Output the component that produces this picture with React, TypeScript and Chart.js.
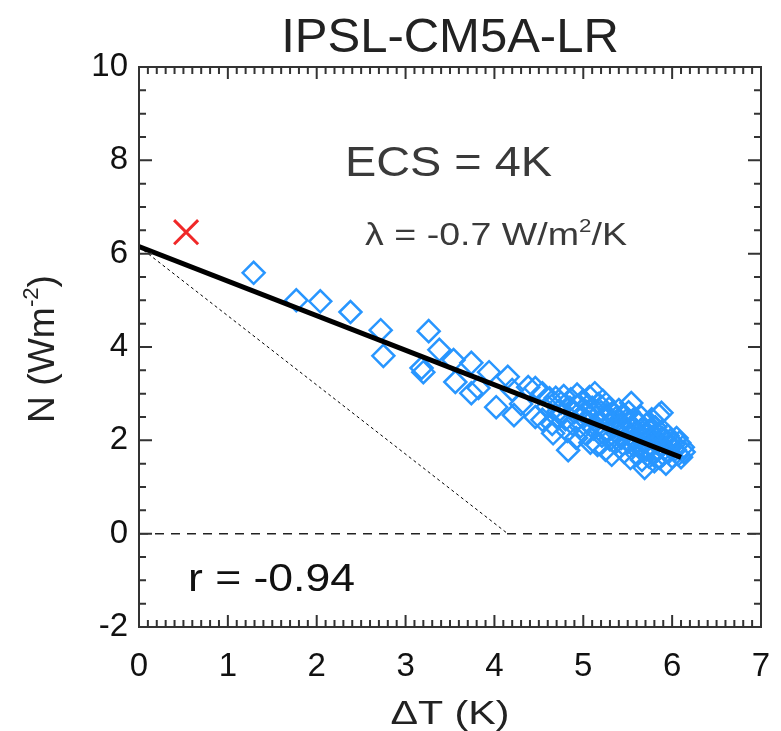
import React, { useEffect, useRef } from 'react';
import { Chart, registerables } from 'chart.js';

Chart.register(...registerables);

const modelName = 'IPSL-CM5A-LR';
const xTickValues = [0, 1, 2, 3, 4, 5, 6, 7];
const yTickValues = [-2, 0, 2, 4, 6, 8, 10];

const deltaT = [1.29,1.77,2.04,2.38,2.72,2.75,3.26,3.18,3.20,3.38,3.54,3.56,3.74,3.74,3.82,3.94,4.02,4.15,4.20,4.22,4.30,4.38,4.46,4.46,4.54,4.54,4.60,4.62,4.65,4.66,4.69,4.70,4.72,4.75,
4.78,4.80,4.82,4.83,4.85,4.86,4.88,4.90,4.92,4.93,4.95,4.97,4.98,5.00,5.02,5.03,5.05,5.07,5.08,5.10,5.12,5.13,5.14,5.16,5.17,5.18,5.20,5.21,5.22,5.24,5.25,5.26,5.28,5.29,5.30,5.31,5.32,5.33,5.35,5.36,5.37,5.38,5.40,5.41,5.42,5.43,5.45,5.46,5.47,5.48,5.50,5.51,5.52,5.53,5.54,5.55,5.56,5.57,5.58,5.60,5.61,5.62,5.63,5.64,5.65,5.66,5.67,5.68,5.69,5.70,5.71,5.72,5.73,5.74,5.75,5.76,5.77,5.78,5.79,5.80,5.81,5.82,5.83,5.84,5.85,5.86,5.87,5.88,5.89,5.90,5.91,5.92,5.93,5.94,5.95,5.96,5.97,5.98,6.00,6.02,6.03,6.05,6.07,6.08,6.10,6.12,6.13];

const netFlux = [5.59,5.00,4.98,4.75,4.36,3.81,4.34,3.55,3.46,3.94,3.72,3.25,3.66,3.01,3.12,3.46,2.71,3.36,3.08,2.54,2.78,3.14,3.12,2.50,3.01,2.44,2.72,2.90,2.35,2.15,2.91,2.50,2.62,2.80,
2.95,2.45,2.20,1.79,2.70,2.88,2.35,2.60,2.05,2.98,2.75,2.30,2.52,2.85,2.15,2.62,2.40,2.93,1.95,2.70,2.25,3.01,2.50,1.90,2.78,2.35,2.60,2.10,2.85,2.45,1.80,2.55,2.20,2.68,2.02,2.40,1.69,2.58,2.28,1.95,2.48,2.15,2.65,1.85,2.35,2.05,2.55,1.75,2.25,2.42,1.98,2.60,2.12,1.62,2.80,2.30,1.90,2.45,2.05,2.20,1.70,2.38,1.85,2.10,2.50,1.58,2.25,1.95,1.41,2.15,1.80,2.35,2.02,1.65,2.20,1.88,2.45,1.72,2.08,1.55,2.28,1.95,1.78,2.12,2.54,1.62,1.90,2.59,2.05,1.70,2.18,1.83,1.50,1.98,2.10,1.75,1.88,2.00,1.65,1.92,1.80,2.05,1.70,1.95,1.64,1.85,1.75];

const firstYearT = [0.53];
const firstYearN = [6.46];

const fitIntercept = 6.15;
const fitSlope = -0.74;
const fitEndT = 6.1;
const ecsZeroT = 4.15;

const ecsLabel = 'ECS = 4K';
const lambdaLabel = ['λ = -0.7 W/m', '2', '/K'];
const rLabel = 'r = -0.94';
const yTitleParts = ['N (Wm', '-2', ')'];
const xTitle = 'ΔT (K)';

const FONT = '"Liberation Sans", Arial, Helvetica, sans-serif';

// Draw text (optionally with one superscript part) horizontally fitted to a given width
function drawFitted(
  ctx: CanvasRenderingContext2D,
  parts: string[],
  x: number,
  y: number,
  size: number,
  width: number,
  align: 'left' | 'center'
) {
  const supSize = Math.round(size * 0.6);
  const widths: number[] = parts.map((p, i) => {
    ctx.font = `${i === 1 ? supSize : size}px ${FONT}`;
    return ctx.measureText(p).width;
  });
  const total = widths.reduce((a, b) => a + b, 0);
  const sx = width / total;
  ctx.save();
  const startX = align === 'center' ? x - width / 2 : x;
  ctx.translate(startX, y);
  ctx.scale(sx, 1);
  ctx.textAlign = 'left';
  let cx = 0;
  parts.forEach((p, i) => {
    ctx.font = `${i === 1 ? supSize : size}px ${FONT}`;
    ctx.fillText(p, cx, i === 1 ? -size * 0.42 : 0);
    cx += widths[i];
  });
  ctx.restore();
}

const framePlugin = {
  id: 'idlFrame',
  afterDraw(chart: any) {
    const { ctx, chartArea } = chart;
    const xs = chart.scales.x;
    const ys = chart.scales.y;
    const { left, right, top, bottom } = chartArea;
    ctx.save();
    ctx.strokeStyle = '#333';
    ctx.lineWidth = 2;
    ctx.strokeRect(left, top, right - left, bottom - top);
    ctx.beginPath();
    for (let i = 0; i <= 70; i++) {
      const v = i / 10;
      const px = xs.getPixelForValue(v);
      const len = i % 10 === 0 ? 12 : 7;
      ctx.moveTo(px, bottom);
      ctx.lineTo(px, bottom - len);
      ctx.moveTo(px, top);
      ctx.lineTo(px, top + len);
    }
    for (let i = -4; i <= 20; i++) {
      const v = i / 2;
      const py = ys.getPixelForValue(v);
      const len = i % 4 === 0 ? 13 : 7;
      ctx.moveTo(left, py);
      ctx.lineTo(left + len, py);
      ctx.moveTo(right, py);
      ctx.lineTo(right - len, py);
    }
    ctx.stroke();

    ctx.textBaseline = 'alphabetic';

    // Title
    ctx.fillStyle = '#222';
    ctx.textAlign = 'center';
    ctx.font = `49px ${FONT}`;
    ctx.fillText(modelName, (left + right) / 2, 52);

    // ECS label
    ctx.fillStyle = '#3a3a3a';
    drawFitted(ctx, [ecsLabel], 345, 176, 43, 207, 'left');

    // lambda label
    drawFitted(ctx, lambdaLabel, 365, 245, 32, 262, 'left');

    // r label
    ctx.fillStyle = '#111';
    drawFitted(ctx, [rLabel], 188, 591, 39, 167, 'left');

    // x title
    ctx.fillStyle = '#222';
    drawFitted(ctx, [xTitle], (left + right) / 2, 724, 33, 119, 'center');

    // y title
    ctx.save();
    ctx.translate(54, 349);
    ctx.rotate(-Math.PI / 2);
    drawFitted(ctx, yTitleParts, 0, 0, 37, 148, 'center');
    ctx.restore();

    ctx.restore();
  },
};

export default function App() {
  const ref = useRef<HTMLCanvasElement | null>(null);
  useEffect(() => {
    document.body.style.margin = '0';
    const canvas = ref.current;
    if (!canvas) return;
    const scatterPts = deltaT.map((t, i) => ({ x: t, y: netFlux[i] }));
    const firstPts = firstYearT.map((t, i) => ({ x: t, y: firstYearN[i] }));
    const chart = new Chart(canvas, {
      type: 'scatter',
      data: {
        datasets: [
          {
            type: 'line',
            data: [
              { x: 0, y: fitIntercept },
              { x: fitEndT, y: fitIntercept + fitSlope * fitEndT },
            ],
            borderColor: '#000',
            borderWidth: 5,
            pointRadius: 0,
            fill: false,
          } as any,
          {
            data: firstPts,
            pointStyle: 'crossRot',
            radius: 17,
            borderColor: '#f02828',
            borderWidth: 3,
            backgroundColor: 'transparent',
          },
          {
            data: scatterPts,
            pointStyle: 'rectRot',
            radius: 11,
            borderColor: 'rgb(40,150,255)',
            borderWidth: 2.5,
            backgroundColor: 'transparent',
          },
          {
            type: 'line',
            data: [
              { x: 0, y: fitIntercept },
              { x: ecsZeroT, y: 0 },
            ],
            borderColor: '#000',
            borderWidth: 1,
            borderDash: [3, 3],
            pointRadius: 0,
            fill: false,
          } as any,
          {
            type: 'line',
            data: [
              { x: 0, y: 0 },
              { x: 7, y: 0 },
            ],
            borderColor: '#222',
            borderWidth: 1.5,
            borderDash: [9, 7],
            pointRadius: 0,
            fill: false,
          } as any,
        ],
      },
      options: {
        animation: false,
        responsive: false,
        maintainAspectRatio: false,
        layout: { padding: { left: 0, right: 13, top: 67, bottom: 0 } },
        plugins: {
          legend: { display: false },
          tooltip: { enabled: false },
          title: { display: false },
        },
        scales: {
          x: {
            type: 'linear',
            min: 0,
            max: 7,
            afterBuildTicks: (s: any) => {
              s.ticks = xTickValues.map((v) => ({ value: v }));
            },
            afterFit: (s: any) => {
              s.height = 104;
              s.paddingLeft = 0;
              s.paddingRight = 0;
            },
            grid: { display: false, drawTicks: false },
            border: { display: false },
            ticks: {
              font: { family: FONT, size: 33 },
              color: '#111',
              padding: 20,
              maxRotation: 0,
              autoSkip: false,
            },
          },
          y: {
            type: 'linear',
            min: -2,
            max: 10,
            afterBuildTicks: (s: any) => {
              s.ticks = yTickValues.map((v) => ({ value: v }));
            },
            afterFit: (s: any) => {
              s.width = 139;
              s.paddingTop = 0;
              s.paddingBottom = 0;
            },
            grid: { display: false, drawTicks: false },
            border: { display: false },
            ticks: {
              font: { family: FONT, size: 33 },
              color: '#111',
              padding: 11,
              autoSkip: false,
            },
          },
        },
      },
      plugins: [framePlugin],
    });
    return () => chart.destroy();
  }, []);
  return (
    <div style={{ width: 781, height: 731, background: '#fff' }}>
      <canvas ref={ref} width={781} height={731} style={{ display: 'block' }} />
    </div>
  );
}
